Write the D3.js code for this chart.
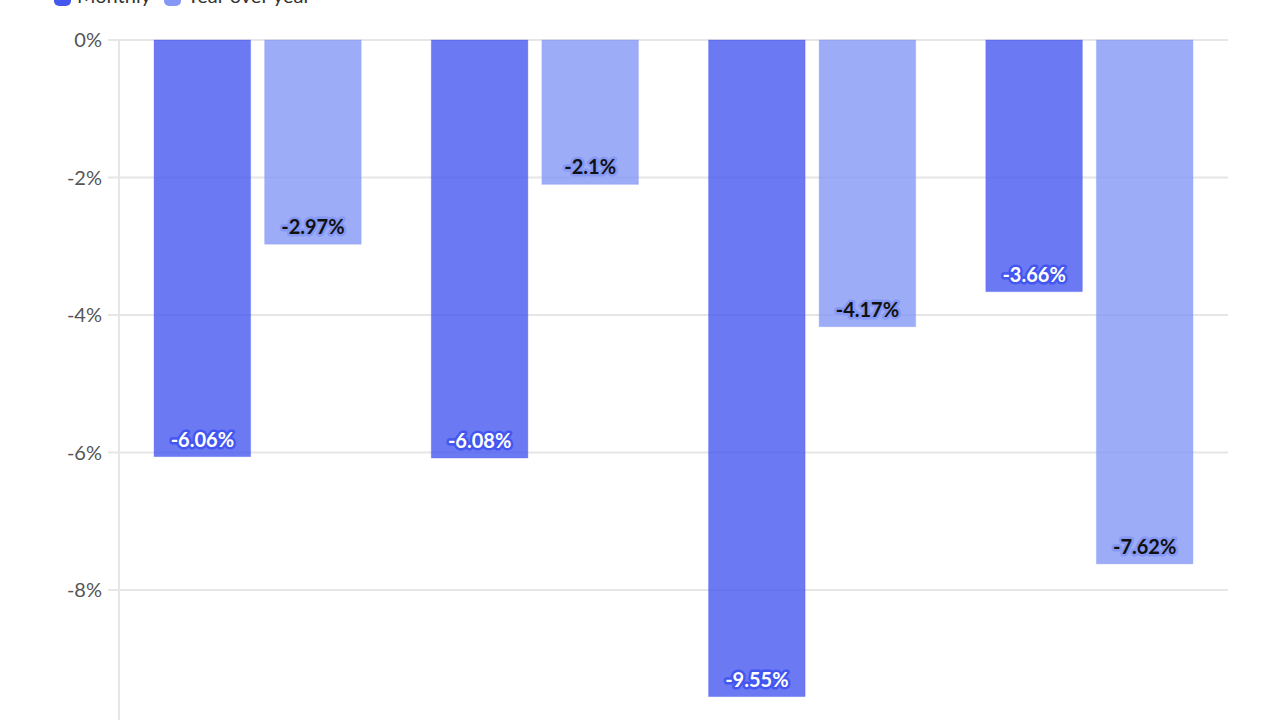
<!DOCTYPE html>
<html>
<head>
<meta charset="utf-8">
<script src="https://cdn.jsdelivr.net/npm/d3@7"></script>
<style>
  html, body { margin: 0; padding: 0; background: #fff; overflow: hidden; }
  svg { display: block; font-family: Lato, "Noto Sans", sans-serif; }
</style>
</head>
<body>
<svg width="1280" height="720"></svg>
<script>
const GROUPS = ["A", "B", "C", "D"];
const SERIES = ["Monthly", "Year over year"];
const MONTHLY = [-6.06, -6.08, -9.55, -3.66];
const YEAR_OVER_YEAR = [-2.97, -2.1, -4.17, -7.62];
const Y_TICKS = [0, -2, -4, -6, -8];

const COLORS = { "Monthly": "#4657f0", "Year over year": "#8497f4" };
const HALO = { "Monthly": "#4456f0", "Year over year": "#8598f4" };
const TEXT = { "Monthly": "#ffffff", "Year over year": "#111111" };

const rows = GROUPS.map((g, i) => ({
  group: g,
  values: [
    { series: "Monthly", value: MONTHLY[i] },
    { series: "Year over year", value: YEAR_OVER_YEAR[i] }
  ]
}));

const plotLeft = 119, plotRight = 1228, plotTop = 40;

const yScale = d3.scaleLinear()
  .domain([0, -1])
  .range([plotTop, plotTop + 68.75]);

const x0 = d3.scaleBand()
  .domain(GROUPS)
  .range([plotLeft, plotRight])
  .padding(0);

const x1 = d3.scaleBand()
  .domain(SERIES)
  .range([0, x0.bandwidth()])
  .paddingInner(0.127)
  .paddingOuter(0.317);

const svg = d3.select('svg');

// grid
svg.append('g')
  .selectAll('line')
  .data(Y_TICKS)
  .enter()
  .append('line')
  .attr('x1', plotLeft - 11)
  .attr('x2', plotRight)
  .attr('y1', d => yScale(d))
  .attr('y2', d => yScale(d))
  .attr('stroke', '#e6e6e6')
  .attr('stroke-width', 2);

svg.append('line')
  .attr('x1', plotLeft).attr('x2', plotLeft)
  .attr('y1', plotTop).attr('y2', 720)
  .attr('stroke', '#e6e6e6')
  .attr('stroke-width', 2);

svg.append('g')
  .selectAll('text')
  .data(Y_TICKS)
  .enter()
  .append('text')
  .attr('x', plotLeft - 17)
  .attr('y', d => yScale(d))
  .attr('dy', '0.35em')
  .attr('text-anchor', 'end')
  .attr('font-size', 20)
  .attr('fill', '#555')
  .text(d => d + '%');

// bars
const groups = svg.append('g')
  .selectAll('g')
  .data(rows)
  .enter()
  .append('g')
  .attr('transform', d => `translate(${x0(d.group)},0)`);

groups.selectAll('rect')
  .data(d => d.values)
  .enter()
  .append('rect')
  .attr('x', d => x1(d.series))
  .attr('width', x1.bandwidth())
  .attr('y', yScale(0))
  .attr('height', d => yScale(d.value) - yScale(0))
  .attr('fill', d => COLORS[d.series])
  .attr('fill-opacity', 0.8)
  .attr('stroke', d => COLORS[d.series])
  .attr('stroke-opacity', 0.3)
  .attr('stroke-width', 1);

groups.selectAll('text')
  .data(d => d.values)
  .enter()
  .append('text')
  .attr('x', d => x1(d.series) + x1.bandwidth() / 2)
  .attr('y', d => yScale(d.value) - 10)
  .attr('text-anchor', 'middle')
  .attr('font-size', 20)
  .attr('font-weight', 'bold')
  .attr('fill', d => TEXT[d.series])
  .attr('stroke', d => HALO[d.series])
  .attr('stroke-width', 5)
  .attr('stroke-linejoin', 'round')
  .attr('paint-order', 'stroke')
  .text(d => d.value + '%');

// legend
const legend = svg.append('g')
  .selectAll('g')
  .data(SERIES)
  .enter()
  .append('g')
  .attr('transform', (d, i) => `translate(${[54, 164][i]},-11)`);

legend.append('rect')
  .attr('width', 17)
  .attr('height', 17)
  .attr('rx', 5)
  .attr('fill', d => COLORS[d]);

legend.append('text')
  .attr('x', 23)
  .attr('y', 14)
  .attr('font-size', 20)
  .attr('fill', '#333')
  .text(d => d);
</script>
</body>
</html>
